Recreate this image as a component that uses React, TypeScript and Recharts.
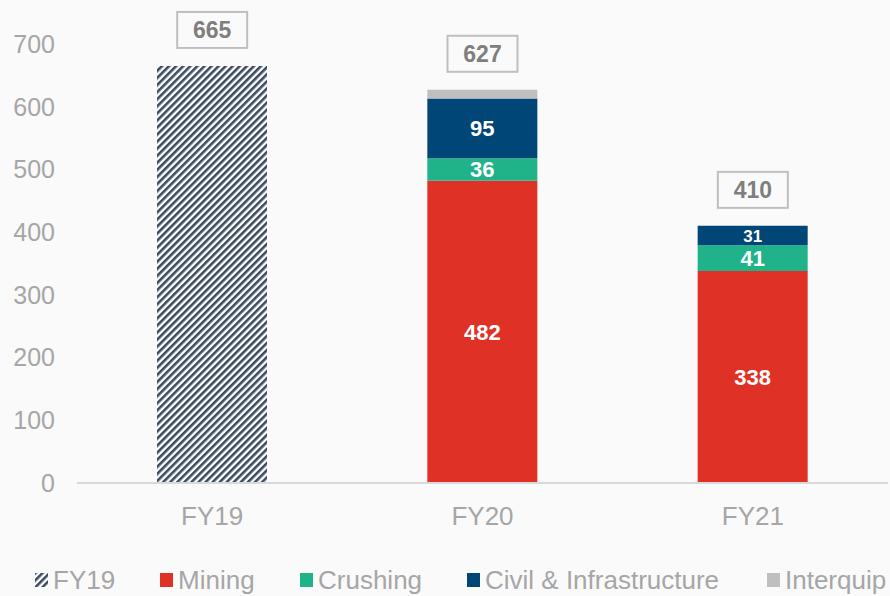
import React from "react";
import { ComposedChart, Bar, XAxis, YAxis, Scatter, LabelList, Legend } from "recharts";

const years = ["FY19", "FY20", "FY21"];
const fy19 = [665, 0, 0];
const mining = [0, 482, 338];
const crushing = [0, 36, 41];
const civil = [0, 95, 31];
const interquip = [0, 14, 0];
const totals = [665, 627, 410];
const yTicks = [0, 100, 200, 300, 400, 500, 600, 700];

const data = years.map((y, i) => ({
  year: y,
  fy19: fy19[i] || null,
  mining: mining[i] || null,
  crushing: crushing[i] || null,
  civil: civil[i] || null,
  interquip: interquip[i] || null,
  total: totals[i],
}));

const FONT = "'Liberation Sans', Arial, sans-serif";
const GREY = "#a6a6a6";

const legendItems = [
  { name: "FY19", color: "url(#hatch)", x: 35 },
  { name: "Mining", color: "#e03126", x: 160 },
  { name: "Crushing", color: "#20b38a", x: 300 },
  { name: "Civil & Infrastructure", color: "#004677", x: 467 },
  { name: "Interquip", color: "#bfbfbf", x: 767 },
];

function TotalBox(props: any) {
  const { cx, cy, payload } = props;
  if (cx == null || cy == null) return null;
  const w = 70;
  const h = 36;
  const mid = cy - 36;
  return (
    <g>
      <rect x={cx - w / 2} y={mid - h / 2} width={w} height={h} fill="#fafafa" stroke="#bfbfbf" strokeWidth={2} />
      <text x={cx} y={mid + 8} textAnchor="middle" fontFamily={FONT} fontWeight="bold" fontSize={23} fill="#7f7f7f">
        {payload.total}
      </text>
    </g>
  );
}

function SegLabel(props: any) {
  const { x, y, width, height, value } = props;
  if (!value) return null;
  const fs = height < 22 ? 17 : 22;
  return (
    <text
      x={x + width / 2}
      y={y + height / 2 + fs * 0.36}
      textAnchor="middle"
      fontFamily={FONT}
      fontWeight="bold"
      fontSize={fs}
      fill="#ffffff"
    >
      {value}
    </text>
  );
}

function LegendRow() {
  return (
    <svg width={890} height={53} style={{ display: "block" }}>
      {legendItems.map((it) => (
        <g key={it.name}>
          <rect x={it.x} y={30} width={13} height={14} fill={it.color} />
          <text x={it.x + 18} y={46} fontFamily={FONT} fontSize={26} fill={GREY}>
            {it.name}
          </text>
        </g>
      ))}
    </svg>
  );
}

export default function App() {
  return (
    <div style={{ position: "absolute", left: 0, top: 0, width: 890, height: 596, background: "#fafafa", overflow: "hidden" }}>
      <ComposedChart width={890} height={596} data={data} margin={{ top: 44, right: 2, left: 0, bottom: 0 }}>
        <defs>
          <pattern id="hatch" patternUnits="userSpaceOnUse" width={5} height={5} patternTransform="rotate(45)">
            <rect width={5} height={5} fill="#ffffff" />
            <rect width={2.6} height={5} fill="#3b4a5e" />
          </pattern>
        </defs>
        <XAxis
          dataKey="year"
          axisLine={{ stroke: "#d9d9d9", strokeWidth: 2 }}
          tickLine={false}
          tick={{ fill: GREY, fontSize: 26, fontFamily: FONT }}
          tickMargin={18}
          height={60}
        />
        <YAxis
          domain={[0, 700]}
          ticks={yTicks}
          width={77}
          axisLine={false}
          tickLine={false}
          tickMargin={16}
          tick={{ fill: GREY, fontSize: 25, fontFamily: FONT }}
        />
        <Legend verticalAlign="bottom" height={53} content={() => <LegendRow />} />
        <Bar dataKey="fy19" stackId="a" fill="url(#hatch)" barSize={110} isAnimationActive={false} />
        <Bar dataKey="mining" stackId="a" fill="#e03126" barSize={110} isAnimationActive={false}>
          <LabelList dataKey="mining" content={SegLabel} />
        </Bar>
        <Bar dataKey="crushing" stackId="a" fill="#20b38a" barSize={110} isAnimationActive={false}>
          <LabelList dataKey="crushing" content={SegLabel} />
        </Bar>
        <Bar dataKey="civil" stackId="a" fill="#004677" barSize={110} isAnimationActive={false}>
          <LabelList dataKey="civil" content={SegLabel} />
        </Bar>
        <Bar dataKey="interquip" stackId="a" fill="#bfbfbf" barSize={110} isAnimationActive={false} />
        <Scatter dataKey="total" shape={TotalBox} isAnimationActive={false} />
      </ComposedChart>
    </div>
  );
}
